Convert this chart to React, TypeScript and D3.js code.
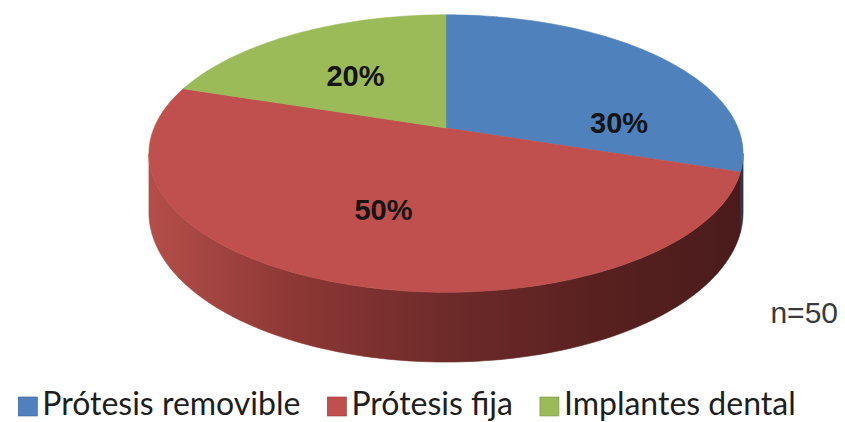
import React from 'react';
import * as d3 from 'd3';

// chart data
const categories = ['Prótesis removible', 'Prótesis fija', 'Implantes dental'];
const shares = [30, 50, 20];
const pctLabels = ['30%', '50%', '20%'];
const sampleNote = 'n=50';

const topColors = ['#4f81bd', '#c0504d', '#9bbb59'];
const sideStops = [
  ['#4a77ad', '#3a5f8c', '#2f4f77', '#27425f', '#223a55'],
  ['#b44e4a', '#8c3734', '#6e2b2a', '#582120', '#4a1b1b'],
  ['#8fad52', '#758f42', '#5f7536', '#4e602c', '#435226'],
];
// small nudges so the labels sit where the original puts them
const labelNudge = [[40, 39], [-2, -3], [4, 8]];

const W = 845, H = 422;
const cx = 446, cy = 128, rx = 292, ry = 134, persp = 0.184, depth = 57;
const legendFont = 'Lato, "Open Sans", sans-serif';
const legendSize = 32;

function project(a: number, r = 1, drop = 0): [number, number] {
  const u = Math.sin(a) * r, v = -Math.cos(a) * r;
  const w = 1 - persp * v;
  return [cx + (rx * u) / w, cy + (ry * v + drop) / w];
}

function arcPoints(a0: number, a1: number, drop = 0) {
  const n = Math.max(2, Math.ceil(((a1 - a0) / (2 * Math.PI)) * 240));
  return d3.range(n + 1).map(i => project(a0 + ((a1 - a0) * i) / n, 1, drop));
}

let measureCtx: CanvasRenderingContext2D | null = null;
function textWidth(s: string, font: string) {
  if (!measureCtx) measureCtx = document.createElement('canvas').getContext('2d');
  if (!measureCtx) return s.length * 14;
  measureCtx.font = font;
  return measureCtx.measureText(s).width;
}

export default function App() {
  const arcs = d3.pie<number>().sort(null).value(d => d)(shares);
  const path = d3.line();

  // visible band of the side wall (silhouette of the perspective cylinder)
  const silR = Math.acos(-persp);
  const silL = 2 * Math.PI - silR;

  const sides = arcs.map((a, i) => {
    const s = Math.max(a.startAngle, silR);
    const e = Math.min(a.endAngle, silL);
    if (e <= s) return null;
    const pts = [...arcPoints(s, e), ...arcPoints(s, e, depth).reverse()];
    return <path key={'side' + i} d={path(pts) + 'Z'} fill={`url(#side${i})`} stroke={`url(#side${i})`} strokeWidth={0.6} />;
  });

  const tops = arcs.map((a, i) => {
    const pts: [number, number][] = [[cx, cy], ...arcPoints(a.startAngle, a.endAngle)];
    return <path key={'top' + i} d={path(pts) + 'Z'} fill={topColors[i]} stroke={topColors[i]} strokeWidth={0.6} />;
  });

  const labels = arcs.map((a, i) => {
    const [x, y] = project((a.startAngle + a.endAngle) / 2, 0.6);
    return (
      <text key={'lab' + i} x={x + labelNudge[i][0]} y={y + labelNudge[i][1]} textAnchor="middle" dominantBaseline="central"
        fontFamily='"Liberation Sans", Arial, sans-serif' fontWeight="bold" fontSize={29} fill="#141414">
        {pctLabels[i]}
      </text>
    );
  });

  // legend layout
  const font = `${legendSize}px ${legendFont}`;
  const sq = 19, gapIn = 5, gapOut = 27;
  const widths = categories.map(c => textWidth(c, font));
  const total = d3.sum(widths) + categories.length * (sq + gapIn) + (categories.length - 1) * gapOut;
  let lx = 407 - total / 2;
  const legendBase = 415;
  const legend = categories.map((c, i) => {
    const x0 = lx;
    lx += sq + gapIn + widths[i] + gapOut;
    return (
      <g key={'leg' + i}>
        <rect x={x0} y={legendBase - sq + 1} width={sq} height={sq} fill={topColors[i]} stroke={sideStops[i][1]} strokeWidth={0.6} />
        <text x={x0 + sq + gapIn} y={legendBase} fontFamily={legendFont} fontSize={legendSize} fill="#1e1e1e">{c}</text>
      </g>
    );
  });

  return (
    <svg width={W} height={H} style={{ position: 'absolute', left: 0, top: 0, background: '#fff' }}>
      <defs>
        {sideStops.map((stops, i) => (
          <linearGradient key={i} id={`side${i}`} gradientUnits="userSpaceOnUse" x1={cx - rx * 1.02} x2={cx + rx * 1.02} y1={0} y2={0}>
            {stops.map((c, j) => (
              <stop key={j} offset={j / (stops.length - 1)} stopColor={c} />
            ))}
          </linearGradient>
        ))}
      </defs>
      <rect width={W} height={H} fill="#fff" />
      {sides}
      {tops}
      {labels}
      <text x={838} y={323} textAnchor="end" fontFamily='"Liberation Sans", Arial, sans-serif' fontSize={30} fill="#3a3a3a">{sampleNote}</text>
      {legend}
    </svg>
  );
}
